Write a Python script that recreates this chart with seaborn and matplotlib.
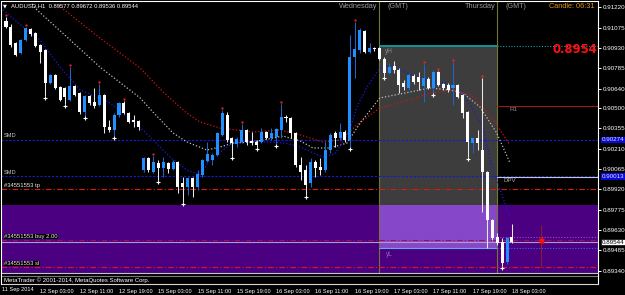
import matplotlib
matplotlib.use("Agg")
import numpy as np
import pandas as pd
import matplotlib.pyplot as plt
import matplotlib.transforms as mtransforms
from matplotlib import font_manager
import seaborn as sns

# ------------------------------------------------------------------ data
symbol = "AUDUSD,H1"
bar_index = list(range(-7, 97))
opens = [0.91122, 0.91079, 0.90965, 0.90894, 0.90987, 0.91065, 0.91036,
         0.90951, 0.90915, 0.90680, 0.90737, 0.90651, 0.90644, 0.90558, 0.90658,
         0.90608, 0.90473, 0.90587, 0.90544, 0.90523, 0.90594, 0.90366, 0.90344,
         0.90451, 0.90537, 0.90465, 0.90416, 0.90408,
         0.90059, 0.90145, 0.90044, 0.90109, 0.90073, 0.90109, 0.90066, 0.90116,
         0.89966, 0.89937, 0.90002, 0.89937, 0.90023, 0.90123, 0.90130, 0.90166,
         0.90309, 0.90451, 0.90287, 0.90244, 0.90259, 0.90344, 0.90266, 0.90259,
         0.90259, 0.90330, 0.90287, 0.90294, 0.90344, 0.90437, 0.90430, 0.90323,
         0.90094, 0.90059, 0.89966, 0.90116, 0.90080, 0.90059, 0.90201, 0.90323,
         0.90287, 0.90330, 0.90273, 0.90865, 0.90915, 0.91051, 0.90901, 0.90929,
         0.90929, 0.90851, 0.90751, 0.90801, 0.90772, 0.90680, 0.90644, 0.90730,
         0.90722, 0.90658, 0.90708, 0.90644, 0.90758, 0.90672, 0.90665, 0.90644,
         0.90665, 0.90594, 0.90473, 0.90251, 0.90287, 0.90201, 0.90044, 0.89702,
         0.89581, 0.89545, 0.89402, 0.89577]
highs = [0.91151, 0.91101, 0.90972, 0.90994, 0.91079, 0.91072, 0.91044,
         0.90958, 0.90922, 0.90744, 0.90744, 0.90658, 0.90651, 0.90794, 0.90665,
         0.90615, 0.90594, 0.90594, 0.90644, 0.90672, 0.90601, 0.90416, 0.90465,
         0.90544, 0.90551, 0.90473, 0.90451, 0.90416,
         0.90152, 0.90152, 0.90159, 0.90130, 0.90152, 0.90116, 0.90130, 0.90123,
         0.90009, 0.90009, 0.90009, 0.90059, 0.90137, 0.90259, 0.90180, 0.90330,
         0.90487, 0.90473, 0.90294, 0.90294, 0.90387, 0.90351, 0.90330, 0.90273,
         0.90358, 0.90337, 0.90358, 0.90358, 0.90530, 0.90451, 0.90437, 0.90330,
         0.90152, 0.90094, 0.90145, 0.90130, 0.90145, 0.90259, 0.90323, 0.90337,
         0.90394, 0.90344, 0.91022, 0.91115, 0.91072, 0.91058, 0.90965, 0.90937,
         0.90937, 0.90865, 0.90822, 0.90837, 0.90787, 0.90701, 0.90751, 0.90744,
         0.90758, 0.90815, 0.90722, 0.90772, 0.90765, 0.90680, 0.90680, 0.90830,
         0.90672, 0.90601, 0.90480, 0.90294, 0.90344, 0.90715, 0.90051, 0.89709,
         0.89609, 0.89574, 0.89581, 0.89672]
lows = [0.91072, 0.90937, 0.90872, 0.90887, 0.90979, 0.91015, 0.90937,
        0.90822, 0.90587, 0.90672, 0.90637, 0.90551, 0.90530, 0.90551, 0.90587,
        0.90458, 0.90444, 0.90523, 0.90501, 0.90515, 0.90323, 0.90330, 0.90301,
        0.90437, 0.90458, 0.90394, 0.90366, 0.90344,
        0.90044, 0.90044, 0.90037, 0.89987, 0.90009, 0.90037, 0.90059, 0.89895,
        0.89830, 0.89880, 0.89866, 0.89916, 0.90009, 0.90116, 0.90094, 0.90159,
        0.90301, 0.90259, 0.90159, 0.90223, 0.90251, 0.90237, 0.90237, 0.90223,
        0.90251, 0.90280, 0.90273, 0.90244, 0.90287, 0.90401, 0.90287, 0.90080,
        0.89987, 0.89880, 0.89937, 0.90009, 0.90023, 0.90044, 0.90180, 0.90223,
        0.90273, 0.90259, 0.90223, 0.90715, 0.90894, 0.90894, 0.90894, 0.90908,
        0.90844, 0.90730, 0.90744, 0.90751, 0.90608, 0.90630, 0.90630, 0.90672,
        0.90630, 0.90544, 0.90637, 0.90608, 0.90658, 0.90630, 0.90615, 0.90523,
        0.90573, 0.90430, 0.90152, 0.90180, 0.90201, 0.89759, 0.89502, 0.89559,
        0.89523, 0.89374, 0.89388, 0.89536]
closes = [0.91079, 0.90951, 0.90879, 0.90987, 0.91072, 0.91029, 0.90944,
          0.90901, 0.90680, 0.90737, 0.90644, 0.90558, 0.90580, 0.90658, 0.90594,
          0.90473, 0.90587, 0.90537, 0.90515, 0.90594, 0.90366, 0.90344, 0.90451,
          0.90537, 0.90465, 0.90401, 0.90401, 0.90366,
          0.90145, 0.90059, 0.90116, 0.90073, 0.90116, 0.90066, 0.90116, 0.89937,
          0.89937, 0.90002, 0.89937, 0.90030, 0.90130, 0.90173, 0.90166, 0.90323,
          0.90465, 0.90273, 0.90251, 0.90280, 0.90344, 0.90259, 0.90251, 0.90237,
          0.90330, 0.90287, 0.90323, 0.90351, 0.90437, 0.90430, 0.90323, 0.90094,
          0.90044, 0.89952, 0.90116, 0.90073, 0.90059, 0.90201, 0.90309, 0.90287,
          0.90330, 0.90273, 0.90865, 0.90922, 0.91058, 0.90901, 0.90929, 0.90922,
          0.90851, 0.90751, 0.90794, 0.90772, 0.90665, 0.90651, 0.90737, 0.90687,
          0.90687, 0.90715, 0.90644, 0.90758, 0.90665, 0.90644, 0.90630, 0.90665,
          0.90580, 0.90465, 0.90259, 0.90287, 0.90251, 0.90044, 0.89702, 0.89574,
          0.89538, 0.89395, 0.89574, 0.89544]

fractal_up_bars = [-7, -3, 6, 12, 17, 23, 37, 41, 49, 64, 78, 81, 84, 90]
fractal_down_bars = [1, 5, 9, 15, 24, 29, 39, 44, 48, 54, 63, 70, 80, 87, 94]

ma_fast_bars = [-7.6, -3.5, -0.1, 4.0, 8.1, 14.2, 20.9, 26.4, 29.8, 32.5, 34.5, 36.6,
                39.2, 42.7, 49.8, 52.9, 55.5, 57.5, 60.0, 63.0, 64.4, 66.5, 69.1,
                71.2, 75.2, 79.3, 82.4, 86.0, 88.1, 90.1, 92.1, 95.6]
ma_fast_vals = [0.91201, 0.91079, 0.90987, 0.90794, 0.90630, 0.90537, 0.90344, 0.90152,
                0.90059, 0.90023, 0.90130, 0.90187, 0.90251, 0.90266, 0.90251, 0.90223,
                0.90180, 0.90152, 0.90173, 0.90344, 0.90508, 0.90651, 0.90787, 0.90808,
                0.90744, 0.90694, 0.90680, 0.90608, 0.90487, 0.90366, 0.90059, 0.89723]
ma_mid_bars = [-1.7, -0.7, 5.4, 12.1, 20.3, 22.9, 27.0, 29.8, 33.9, 36.6, 39.2, 43.3,
               49.4, 52.9, 55.5, 58.9, 62.4, 65.1, 69.1, 75.2, 79.3, 83.4, 86.0, 89.5,
               92.9, 95.6]
ma_mid_vals = [0.91244, 0.91201, 0.91008, 0.90794, 0.90573, 0.90473, 0.90323, 0.90259,
               0.90201, 0.90223, 0.90251, 0.90259, 0.90301, 0.90266, 0.90216, 0.90216,
               0.90251, 0.90394, 0.90573, 0.90615, 0.90644, 0.90630, 0.90608, 0.90508,
               0.90323, 0.90109]
ma_slow_bars = [3.6, 12.1, 20.3, 25.0, 29.8, 32.5, 36.6, 43.3, 48.8, 52.9, 57.5, 61.0,
                65.1, 69.1, 75.2, 79.3, 84.4, 87.5, 89.5, 92.9, 95.6]
ma_slow_vals = [0.91236, 0.91001, 0.90787, 0.90615, 0.90465, 0.90401, 0.90358, 0.90330,
                0.90344, 0.90309, 0.90259, 0.90273, 0.90401, 0.90501, 0.90558, 0.90608,
                0.90630, 0.90594, 0.90537, 0.90380, 0.90237]

price_ticks = [0.91220, 0.91075, 0.90930, 0.90785, 0.90640, 0.90500, 0.90355,
               0.90210, 0.90065, 0.89920, 0.89775, 0.89630, 0.89485, 0.89340]
time_tick_bars = [0, 8, 16, 24, 32, 40, 48, 56, 64, 72, 80, 88, 96]
time_tick_labels = ["12 Sep 03:00", "12 Sep 11:00", "12 Sep 19:00", "15 Sep 03:00",
                    "15 Sep 11:00", "15 Sep 19:00", "16 Sep 03:00", "16 Sep 11:00",
                    "16 Sep 19:00", "17 Sep 03:00", "17 Sep 11:00", "17 Sep 19:00",
                    "18 Sep 03:00"]
first_date_label = "11 Sep 2014"

day_start_bars = [69, 93]
day_names = ["Wednesday", "Thursday"]

smd_levels = [0.90274, 0.90013]
yH_level, yL_level = 0.90944, 0.89502
R1_level, DPV_level = 0.90515, 0.90009
tp_level, buy_level, sl_level = 0.89920, 0.89559, 0.89367
zone_top, zone_bottom = 0.89809, 0.89300
upper_dotted_level = 0.89581
order_id = "#34551553"
lot_size = "2.00"
marker_bar = 102
marker_range = (0.89366, 0.89666)
candle_timer = "06:31"

# ------------------------------------------------------------------ style
sns.set_theme(style="dark", rc={"figure.facecolor": "black", "axes.facecolor": "black",
                                "savefig.facecolor": "black", "axes.grid": False})
plt.rcParams["font.family"] = ["Liberation Sans", "DejaVu Sans"]

SMALL = 4.3   # axis / label font size

W, H = 625, 295
fig = plt.figure(figsize=(W / 100, H / 100), dpi=100)
AX_L, AX_R, AX_T, AX_B = 1.5, 598.0, 1.0, 273.0
STRIP_B = 284.0
ax = fig.add_axes([AX_L / W, (H - AX_B) / H, (AX_R - AX_L) / W, (AX_B - AX_T) / H])
ax2 = fig.add_axes([AX_L / W, (H - STRIP_B) / H, (AX_R - AX_L) / W, (STRIP_B - AX_B) / H])

px_per_bar = 4.912
k0_px = 40.4
xlim = ((AX_L - k0_px) / px_per_bar, (AX_R - k0_px) / px_per_bar)
ylim = (0.893236, 0.912649)
for a in (ax, ax2):
    a.set_xlim(*xlim)
    a.set_facecolor("black")
    a.grid(False)
ax.set_ylim(*ylim)

df = pd.DataFrame({"k": bar_index, "open": opens, "high": highs, "low": lows, "close": closes})
bull = df["close"] >= df["open"]

BULL_BODY = "#1E90FF"
BULL_WICK = "#1F64C8"
BEAR_BODY = "#FFFFFF"
BEAR_WICK = "#E8E8E8"

# background zones
ax.axhspan(zone_bottom, zone_top, color="#4B0082", lw=0, zorder=0.2)
ax.fill_between(day_start_bars, yL_level, yH_level, color="#3D3D3D", lw=0, zorder=0.3)
ax.fill_between(day_start_bars, yL_level, zone_top, color="#8648C8", lw=0, zorder=0.4)

# period separators
for k in day_start_bars:
    ax.axvline(k, color="#75752E", lw=0.8, zorder=0.5)

# horizontal levels
for lvl in smd_levels:
    ax.axhline(lvl, color="#1818D8", lw=0.8, ls=(0, (2, 1.5)), zorder=1)
ax.axhline(tp_level, color="#E01818", lw=0.8, ls=(0, (5, 2, 1, 2)), zorder=1)
ax.axhline(sl_level, color="#E01818", lw=0.8, ls=(0, (5, 2, 1, 2)), zorder=1)
ax.axhline(buy_level, color="#9A1640", lw=0.8, ls=(0, (5, 2, 1, 2)), zorder=1)
bid = closes[-1]
ax.axhline(bid, color="#A89ADC", lw=0.8, zorder=1)

x_right = xlim[1]
ax.plot(day_start_bars, [yH_level] * 2, color="#159AA0", lw=1.3, zorder=1.2, solid_capstyle="butt")
ax.plot([day_start_bars[1], x_right], [yH_level] * 2, color="#159AA0", lw=0.8, ls=(0, (1, 1.5)), zorder=1.2)
ax.plot(day_start_bars, [yL_level] * 2, color="#6AA8E8", lw=0.8, zorder=1.2)
ax.plot([day_start_bars[1], x_right], [yL_level] * 2, color="#3E62E8", lw=0.8, ls=(0, (1, 1.5)), zorder=1.2)
ax.plot([day_start_bars[1], x_right], [upper_dotted_level] * 2, color="#B03CC8", lw=0.8, ls=(0, (1, 1.5)), zorder=1.2)
ax.plot([day_start_bars[1], x_right], [R1_level] * 2, color="#A01818", lw=0.8, zorder=1.2)
ax.plot([day_start_bars[1], x_right], [DPV_level] * 2, color="#C8C8C8", lw=0.8, zorder=1.2)

# moving averages (seaborn)
for ks, vs, col in [(ma_slow_bars, ma_slow_vals, "#D01414"),
                    (ma_mid_bars, ma_mid_vals, "#BDBDBD"),
                    (ma_fast_bars, ma_fast_vals, "#1A1AE0")]:
    sns.lineplot(x=ks, y=vs, ax=ax, color=col, lw=0.9, linestyle=(0, (1, 1.6)), zorder=3)

# candles
min_h = 0.00007
body = df["close"] - df["open"]
body_h = np.where(np.abs(body) < min_h, np.where(body >= 0, min_h, -min_h), body)
bw = 0.62
ax.vlines(df["k"][bull], df["low"][bull], df["high"][bull], color=BULL_WICK, lw=0.75, zorder=4)
ax.vlines(df["k"][~bull], df["low"][~bull], df["high"][~bull], color=BEAR_WICK, lw=0.75, zorder=4)
ax.bar(df["k"][bull], body_h[bull.values], bottom=df["open"][bull], width=bw,
       color=BULL_BODY, lw=0, zorder=5)
ax.bar(df["k"][~bull], body_h[~bull.values], bottom=df["open"][~bull], width=bw,
       color=BEAR_BODY, lw=0, zorder=5)

# fractal markers
dfi = df.set_index("k")
up_off = mtransforms.offset_copy(ax.transData, fig=fig, x=0, y=2.0, units="dots")
dn_off = mtransforms.offset_copy(ax.transData, fig=fig, x=0, y=-2.0, units="dots")
ax.plot(fractal_up_bars, dfi.loc[fractal_up_bars, "high"], ls="none", marker="s", ms=1.8,
        color="#FF2020", mec="none", transform=up_off, zorder=6)
ax.plot(fractal_down_bars, dfi.loc[fractal_down_bars, "low"], ls="none", marker="+", ms=3,
        mew=0.8, color="white", transform=dn_off, zorder=6)

# future marker
ax.vlines(marker_bar, marker_range[0], marker_range[1], color="#8E1C1C", lw=0.8, zorder=4)
ax.plot([marker_bar], [buy_level], ls="none", marker="s", ms=3.6, color="#FF1010", mec="none", zorder=6)

# ------------------------------------------------------------------ axes look
ax.yaxis.tick_right()
ax.set_yticks(price_ticks)
ax.set_yticklabels([f"{v:.5f}" for v in price_ticks])
ax.tick_params(axis="y", colors="white", labelsize=4.5, length=2.5, width=0.7, pad=1.0,
               direction="out")
ax.set_xticks([])
for s in ("left", "top", "right"):
    ax.spines[s].set_color("white")
    ax.spines[s].set_linewidth(0.8)
ax.spines["bottom"].set_visible(False)

ax2.set_ylim(0, 1)
ax2.set_yticks([])
ax2.set_xticks(time_tick_bars)
ax2.set_xticklabels(time_tick_labels, ha="left")
ax2.tick_params(axis="x", colors="white", labelsize=4.1, length=2.5, width=0.7, pad=0.8)
ax2.spines["top"].set_color("#C4C4C4")
ax2.spines["bottom"].set_color("#D4D4D4")
ax2.spines["left"].set_color("white")
ax2.spines["right"].set_color("white")
for s in ax2.spines.values():
    s.set_linewidth(0.8)
ax2.axhline(0.77, color="#7A7A7A", lw=0.8)
ax2.text(0.004, 0.38, "MetaTrader \u00a9 2001-2014, MetaQuotes Software Corp.",
         transform=ax2.transAxes, color="white", fontsize=4.3, va="center", ha="left")
ax2.annotate(first_date_label, xy=(0, 0), xycoords="axes fraction", xytext=(1, -3.5),
             textcoords="offset pixels", color="white", fontsize=4.1, ha="left", va="top")

# ------------------------------------------------------------------ texts
tr_dx_ay = mtransforms.blended_transform_factory(ax.transData, ax.transAxes)
tr_ax_dy = mtransforms.blended_transform_factory(ax.transAxes, ax.transData)

ax.text(0.006, 0.982, "\u25bc", transform=ax.transAxes, color="white", fontsize=3.6,
        va="center", ha="center", family="DejaVu Sans")
ax.text(0.0155, 0.982,
        f"{symbol}  {opens[-1]:.5f} {highs[-1]:.5f} {lows[-1]:.5f} {closes[-1]:.5f}",
        transform=ax.transAxes, color="white", fontsize=4.2, va="center", ha="left")
ax.text(0.9935, 0.978, f"Candle: {candle_timer}", transform=ax.transAxes, color="#E0950E",
        fontsize=5.3, va="center", ha="right")
ax.text(0.9985, 0.82, f"{bid:.4f}", transform=ax.transAxes, color="#FF1010",
        fontsize=8.4, fontweight="bold", va="center", ha="right", family="DejaVu Sans")

for k, name in zip(day_start_bars, day_names):
    ax.annotate(name, xy=(k, 0.978), xycoords=tr_dx_ay, xytext=(-2, 0),
                textcoords="offset pixels", color="#9A9A9A", fontsize=5.3, ha="right", va="center")
    ax.annotate("(GMT)", xy=(k, 0.978), xycoords=tr_dx_ay, xytext=(8, 0),
                textcoords="offset pixels", color="#9A9A9A", fontsize=5.1, ha="left", va="center")

for lvl in smd_levels:
    ax.annotate("SMD", xy=(0, lvl), xycoords=tr_ax_dy, xytext=(2, 1.5), textcoords="offset pixels",
                color="#C8C8C8", fontsize=4.1, ha="left", va="bottom")
ax.annotate(f"{order_id} tp", xy=(0, tp_level), xycoords=tr_ax_dy, xytext=(3, 1.5),
            textcoords="offset pixels", color="#E8E8E8", fontsize=4.2, ha="left", va="bottom")
ax.annotate(f"{order_id} buy {lot_size}", xy=(0, buy_level), xycoords=tr_ax_dy, xytext=(3, 1),
            textcoords="offset pixels", color="#E8E8E8", fontsize=4.2, ha="left", va="bottom",
            bbox=dict(boxstyle="square,pad=0.05", fc="black", ec="none"))
ax.annotate(f"{order_id} sl", xy=(0, sl_level), xycoords=tr_ax_dy, xytext=(3, 1),
            textcoords="offset pixels", color="#E8E8E8", fontsize=4.2, ha="left", va="bottom",
            bbox=dict(boxstyle="square,pad=0.05", fc="black", ec="none"))

ax.annotate("yH", xy=(day_start_bars[0], yH_level), xytext=(6, -2), textcoords="offset pixels",
            color="#8A8A8A", fontsize=4.7, ha="left", va="top")
ax.annotate("yL", xy=(day_start_bars[0], yL_level), xytext=(7, -3), textcoords="offset pixels",
            color="#8A6AB0", fontsize=4.7, ha="left", va="top")
ax.annotate("R1", xy=(day_start_bars[1], R1_level), xytext=(12, -1), textcoords="offset pixels",
            color="#8A8A8A", fontsize=4.6, ha="left", va="top")
ax.annotate("DPV", xy=(day_start_bars[1], DPV_level), xytext=(6, -1), textcoords="offset pixels",
            color="#A8A8A8", fontsize=4.4, ha="left", va="top")

# price tags on the axis
for lvl in smd_levels:
    ax.annotate(f"{lvl:.5f}", xy=(1, lvl), xycoords=tr_ax_dy, xytext=(3.5, 0),
                textcoords="offset pixels", color="#E0E0FF", fontsize=4.5, ha="left", va="center",
                bbox=dict(boxstyle="square,pad=0.12", fc="#0A0AD8", ec="none"),
                annotation_clip=False)
ax.annotate(f"{bid:.5f}", xy=(1, bid), xycoords=tr_ax_dy, xytext=(3.5, 0),
            textcoords="offset pixels", color="black", fontsize=4.5, ha="left", va="center",
            bbox=dict(boxstyle="square,pad=0.12", fc="white", ec="black", lw=0.5),
            annotation_clip=False)

fig.savefig("out.png", dpi=100, facecolor="black")
